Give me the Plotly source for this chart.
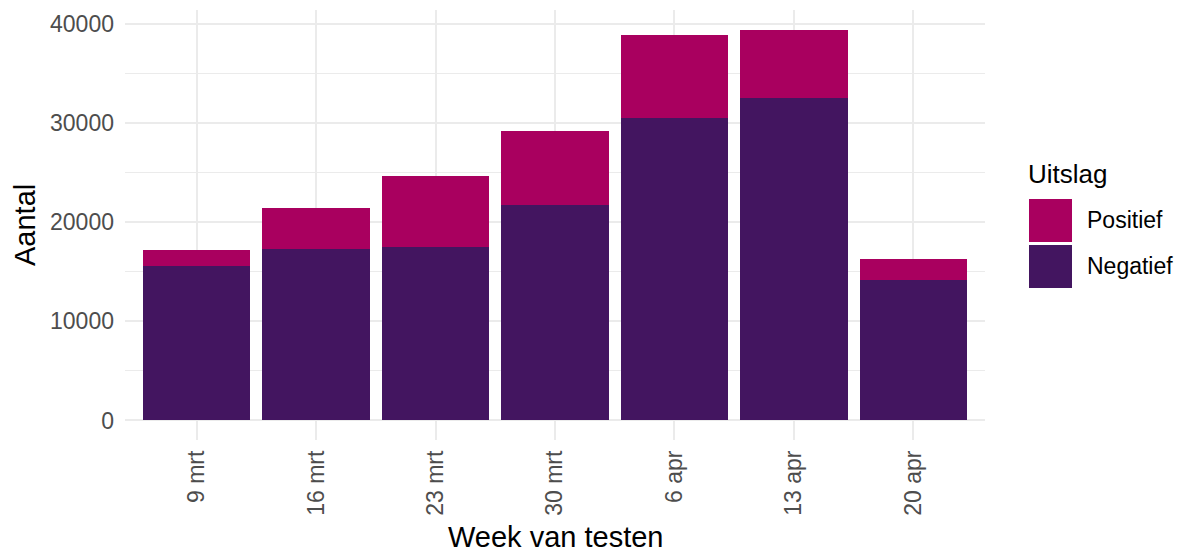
import plotly.graph_objects as go

weeks = ["9 mrt", "16 mrt", "23 mrt", "30 mrt", "6 apr", "13 apr", "20 apr"]
negatief = [15530, 17340, 17540, 21680, 30550, 32500, 14120]
positief = [1610, 4035, 7160, 7460, 8370, 6920, 2210]
y_ticks = [0, 10000, 20000, 30000, 40000]

COL_POS = "#A9005F"
COL_NEG = "#431560"
FONT = "Liberation Sans, Arial, sans-serif"

OFF = 8  # browser body margin
W, H = 1184 - OFF, 554 - OFF
L, R, T, B = 125 - OFF, 199, 10 - OFF, 114
PW, PH = W - L - R, H - T - B

def px(x):
    return (x - OFF - L) / PW

def py(y):
    return (H - B - (y - OFF)) / PH

fig = go.Figure()
fig.add_trace(go.Bar(x=weeks, y=negatief, name="Negatief", marker=dict(color=COL_NEG, line=dict(width=0)), showlegend=False))
fig.add_trace(go.Bar(x=weeks, y=positief, name="Positief", marker=dict(color=COL_POS, line=dict(width=0)), showlegend=False))

ymax = max(n + p for n, p in zip(negatief, positief))
pad = ymax * 0.05

fig.update_layout(
    width=W, height=H,
    margin=dict(l=L, r=R, t=T, b=B, pad=0),
    barmode="stack", bargap=0.1,
    plot_bgcolor="white", paper_bgcolor="white",
    font=dict(family=FONT, size=23, color="#4D4D4D"),
    xaxis=dict(
        type="category", range=[-0.6, len(weeks) - 0.4],
        tickangle=-90, showgrid=True, gridcolor="#EBEBEB", gridwidth=2,
        zeroline=False, showline=False, ticks="", ticklabelstandoff=5,
        tickfont=dict(size=23, color="#4D4D4D"),
    ),
    yaxis=dict(
        range=[-pad, ymax + pad], tickvals=y_ticks, tickformat="d",
        showgrid=True, gridcolor="#EBEBEB", gridwidth=2,
        minor=dict(dtick=5000, tick0=0, showgrid=True, gridcolor="#EBEBEB", gridwidth=1),
        zeroline=False, showline=False, ticks="", ticklabelstandoff=10,
        tickfont=dict(size=23, color="#4D4D4D"),
    ),
    annotations=[
        dict(text="Week van testen", xref="paper", yref="paper", x=px(555), y=py(537),
             xanchor="center", yanchor="middle", showarrow=False, font=dict(size=29, color="black", family=FONT)),
        dict(text="Aantal", xref="paper", yref="paper", x=px(25), y=py(225), textangle=-90,
             xanchor="center", yanchor="middle", showarrow=False, font=dict(size=29, color="black", family=FONT)),
        dict(text="Uitslag", xref="paper", yref="paper", x=px(1026), y=py(174),
             xanchor="left", yanchor="middle", showarrow=False, font=dict(size=26, color="black", family=FONT)),
        dict(text="Positief", xref="paper", yref="paper", x=px(1085), y=py(220),
             xanchor="left", yanchor="middle", showarrow=False, font=dict(size=23, color="black", family=FONT)),
        dict(text="Negatief", xref="paper", yref="paper", x=px(1085), y=py(266),
             xanchor="left", yanchor="middle", showarrow=False, font=dict(size=23, color="black", family=FONT)),
    ],
    shapes=[
        dict(type="rect", xref="paper", yref="paper", x0=px(1029), x1=px(1072), y0=py(242), y1=py(199),
             fillcolor=COL_POS, line=dict(width=0)),
        dict(type="rect", xref="paper", yref="paper", x0=px(1029), x1=px(1072), y0=py(288), y1=py(245),
             fillcolor=COL_NEG, line=dict(width=0)),
    ],
)

fig.write_html("out.html")
